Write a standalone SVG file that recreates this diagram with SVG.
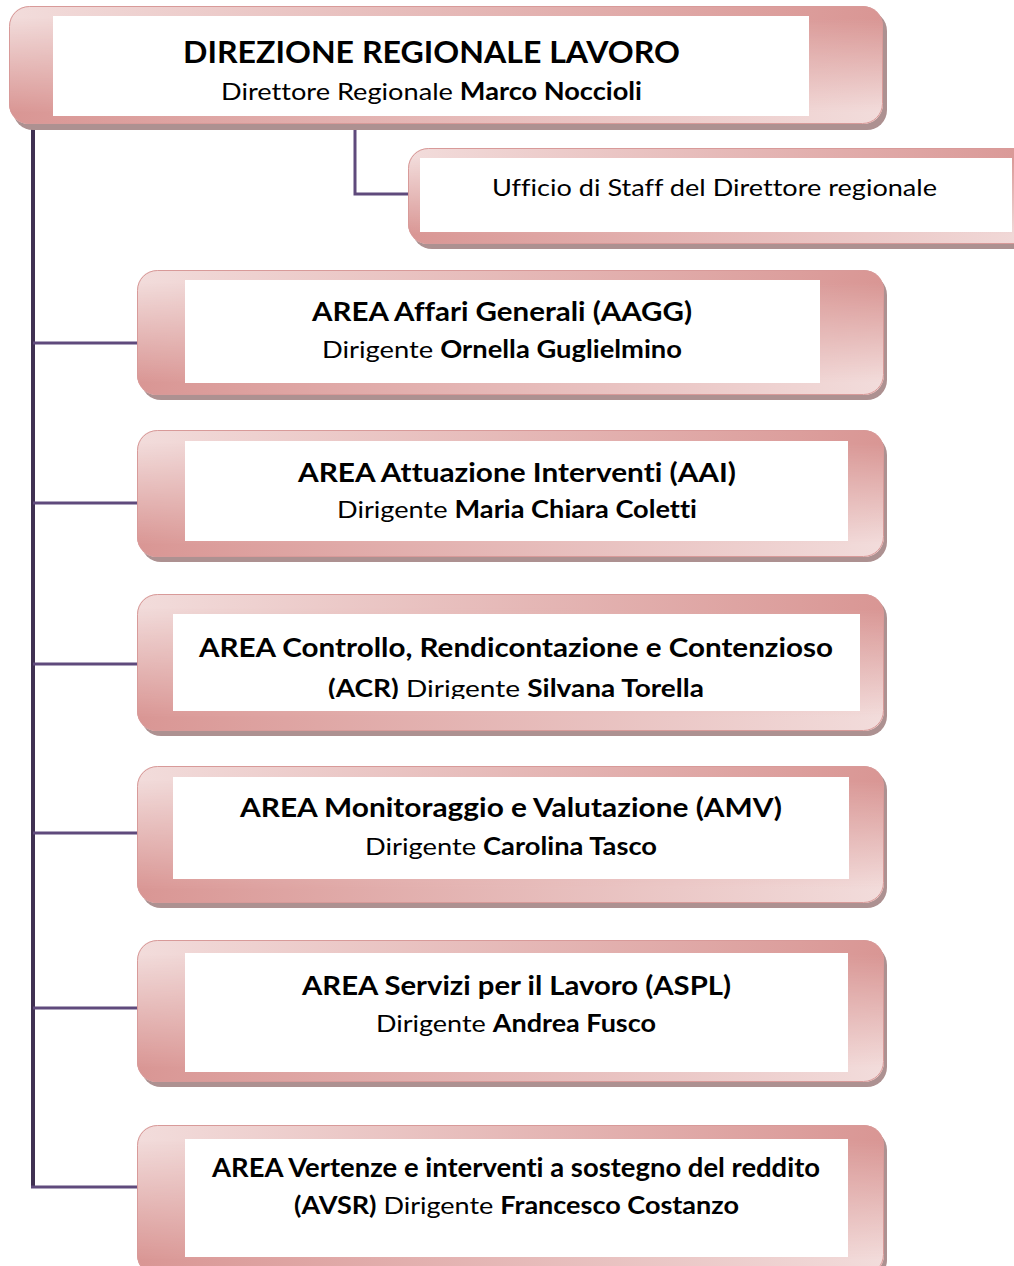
<svg xmlns="http://www.w3.org/2000/svg" width="1014" height="1266" viewBox="0 0 1014 1266">
<style>
.sh{fill:#ad9191}
.f1{fill:url(#gL)}
.f2{fill:url(#gR)}
.ed{fill:none;stroke:#d89a99;stroke-width:1}
.in{fill:#ffffff}
.t{font-family:Lato,"Open Sans","Noto Sans",sans-serif;fill:#000;font-variant-ligatures:none}
.b{font-weight:bold}
.h1{font-size:30px}
.s1{font-size:24px}
.a1{font-size:26px}
.a2{font-size:24px}
.vline{stroke:#403152;stroke-width:4;fill:none}
.hline{stroke:#5f4a7c;stroke-width:3;fill:none}
</style>
<defs>
<linearGradient id="gL" x1="0" y1="0" x2="1" y2="0">
<stop offset="0" stop-color="#f2dcdb"/>
<stop offset="1" stop-color="#d99694"/>
</linearGradient>
<linearGradient id="gR" x1="0" y1="0" x2="1" y2="0">
<stop offset="0" stop-color="#d99694"/>
<stop offset="1" stop-color="#f2dcdb"/>
</linearGradient>
<linearGradient id="gV" x1="0" y1="0" x2="0" y2="1">
<stop offset="0.1" stop-color="#000"/>
<stop offset="0.9" stop-color="#fff"/>
</linearGradient>
<mask id="vm" maskContentUnits="objectBoundingBox">
<rect x="0" y="0" width="1" height="1" fill="url(#gV)"/>
</mask>
<clipPath id="acrclip"><rect x="173" y="600" width="690" height="99"/></clipPath>
</defs>

<g id="connectors">
<path class="vline" d="M33 124 V1187"/>
<path class="hline" d="M355 126 V194 H408"/>
<path class="hline" d="M33 343 H138"/>
<path class="hline" d="M33 503 H138"/>
<path class="hline" d="M33 664 H138"/>
<path class="hline" d="M33 833 H138"/>
<path class="hline" d="M33 1008 H138"/>
<path class="hline" d="M31 1187 H138"/>
</g>

<g id="direzione">
<rect class="sh" x="13" y="11" width="874" height="119" rx="20"/>
<rect class="f1" x="9" y="6" width="874" height="118" rx="20"/>
<rect class="f2" x="9" y="6" width="874" height="118" rx="20" mask="url(#vm)"/>
<rect class="ed" x="9.5" y="6.5" width="873" height="117" rx="20"/>
<rect class="in" x="53" y="16" width="756" height="100"/>
<text class="t b h1" x="183" y="63" textLength="497" lengthAdjust="spacingAndGlyphs">DIREZIONE REGIONALE LAVORO</text>
<text class="t s1" x="221" y="100" textLength="421" lengthAdjust="spacingAndGlyphs">Direttore Regionale <tspan class="b">Marco Noccioli</tspan></text>
</g>

<g id="staff">
<rect class="sh" x="412" y="152" width="640" height="97" rx="20"/>
<rect class="f1" x="408" y="148" width="640" height="96" rx="20"/>
<rect class="f2" x="408" y="148" width="640" height="96" rx="20" mask="url(#vm)"/>
<rect class="ed" x="408.5" y="148.5" width="639" height="95" rx="20"/>
<rect class="in" x="420" y="158" width="592" height="74"/>
<text class="t s1" x="492" y="196" textLength="445" lengthAdjust="spacingAndGlyphs">Ufficio di Staff del Direttore regionale</text>
</g>

<g id="aagg">
<rect class="sh" x="141" y="275" width="746" height="125" rx="20"/>
<rect class="f1" x="137" y="270" width="747" height="125" rx="20"/>
<rect class="f2" x="137" y="270" width="747" height="125" rx="20" mask="url(#vm)"/>
<rect class="ed" x="137.5" y="270.5" width="746" height="124" rx="20"/>
<rect class="in" x="185" y="280" width="635" height="103"/>
<text class="t b a1" x="312" y="321" textLength="380" lengthAdjust="spacingAndGlyphs">AREA Affari Generali (AAGG)</text>
<text class="t a2" x="322" y="358" textLength="360" lengthAdjust="spacingAndGlyphs">Dirigente <tspan class="b">Ornella Guglielmino</tspan></text>
</g>

<g id="aai">
<rect class="sh" x="141" y="435" width="746" height="127" rx="20"/>
<rect class="f1" x="137" y="430" width="747" height="127" rx="20"/>
<rect class="f2" x="137" y="430" width="747" height="127" rx="20" mask="url(#vm)"/>
<rect class="ed" x="137.5" y="430.5" width="746" height="126" rx="20"/>
<rect class="in" x="185" y="441" width="663" height="100"/>
<text class="t b a1" x="298" y="482" textLength="438" lengthAdjust="spacingAndGlyphs">AREA Attuazione Interventi (AAI)</text>
<text class="t a2" x="337" y="518" textLength="360" lengthAdjust="spacingAndGlyphs">Dirigente <tspan class="b">Maria Chiara Coletti</tspan></text>
</g>

<g id="acr">
<rect class="sh" x="141" y="598" width="746" height="138" rx="20"/>
<rect class="f1" x="137" y="594" width="747" height="137" rx="20"/>
<rect class="f2" x="137" y="594" width="747" height="137" rx="20" mask="url(#vm)"/>
<rect class="ed" x="137.5" y="594.5" width="746" height="136" rx="20"/>
<rect class="in" x="173" y="614" width="687" height="97"/>
<text class="t b a1" x="199" y="657" textLength="634" lengthAdjust="spacingAndGlyphs">AREA Controllo, Rendicontazione e Contenzioso</text>
<text class="t a2" x="328" y="697" textLength="376" lengthAdjust="spacingAndGlyphs" clip-path="url(#acrclip)"><tspan class="b">(ACR)</tspan> Dirigente <tspan class="b">Silvana Torella</tspan></text>
</g>

<g id="amv">
<rect class="sh" x="141" y="770" width="746" height="138" rx="20"/>
<rect class="f1" x="137" y="766" width="747" height="137" rx="20"/>
<rect class="f2" x="137" y="766" width="747" height="137" rx="20" mask="url(#vm)"/>
<rect class="ed" x="137.5" y="766.5" width="746" height="136" rx="20"/>
<rect class="in" x="173" y="777" width="676" height="102"/>
<text class="t b a1" x="240" y="817" textLength="542" lengthAdjust="spacingAndGlyphs">AREA Monitoraggio e Valutazione (AMV)</text>
<text class="t a2" x="365" y="855" textLength="292" lengthAdjust="spacingAndGlyphs">Dirigente <tspan class="b">Carolina Tasco</tspan></text>
</g>

<g id="aspl">
<rect class="sh" x="141" y="945" width="746" height="142" rx="20"/>
<rect class="f1" x="137" y="940" width="747" height="142" rx="20"/>
<rect class="f2" x="137" y="940" width="747" height="142" rx="20" mask="url(#vm)"/>
<rect class="ed" x="137.5" y="940.5" width="746" height="141" rx="20"/>
<rect class="in" x="185" y="953" width="663" height="119"/>
<text class="t b a1" x="302" y="995" textLength="429" lengthAdjust="spacingAndGlyphs">AREA Servizi per il Lavoro (ASPL)</text>
<text class="t a2" x="376" y="1032" textLength="280" lengthAdjust="spacingAndGlyphs">Dirigente <tspan class="b">Andrea Fusco</tspan></text>
</g>

<g id="avsr">
<rect class="sh" x="141" y="1130" width="746" height="150" rx="20"/>
<rect class="f1" x="137" y="1125" width="747" height="150" rx="20"/>
<rect class="f2" x="137" y="1125" width="747" height="150" rx="20" mask="url(#vm)"/>
<rect class="ed" x="137.5" y="1125.5" width="746" height="149" rx="20"/>
<rect class="in" x="185" y="1139" width="663" height="118"/>
<text class="t b a1" x="212" y="1177" textLength="608" lengthAdjust="spacingAndGlyphs">AREA Vertenze e interventi a sostegno del reddito</text>
<text class="t a2" x="294" y="1214" textLength="445" lengthAdjust="spacingAndGlyphs"><tspan class="b">(AVSR)</tspan> Dirigente <tspan class="b">Francesco Costanzo</tspan></text>
</g>
</svg>
